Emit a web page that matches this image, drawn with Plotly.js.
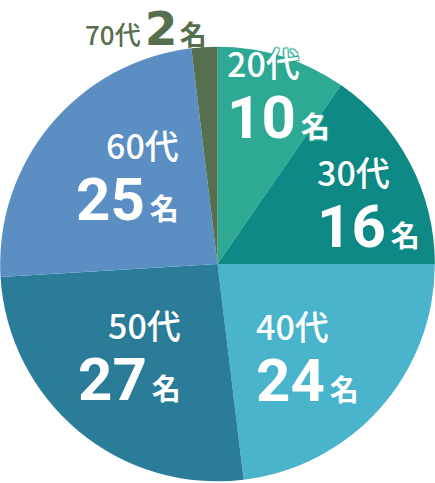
<!DOCTYPE html>
<html>
<head>
<meta charset="utf-8">
<script src="https://cdn.plot.ly/plotly-3.0.1.min.js"></script>
<style>html,body{margin:0;padding:0;background:#fff;}#chart{width:435px;height:483px;}</style>
</head>
<body>
<div id="chart"></div>
<script>
// Data
var ageGroups = ["20代", "30代", "40代", "50代", "60代", "70代"];
var counts = [10, 16, 24, 27, 25, 2];
var unitLabel = "名";

// Styles
var sliceColors = ["#2ea993", "#0e8985", "#49b4cc", "#2a7c98", "#5b8fc4", "#566f4f"];
var textColors = ["#ffffff", "#ffffff", "#ffffff", "#ffffff", "#ffffff", "#566f4f"];
// label layout: [x (px), y (px), xanchor, yanchor, singleLine]
var labelPos = [
  [226, 95, "left", "middle", false],
  [316, 205, "left", "middle", false],
  [255, 358, "left", "middle", false],
  [182, 357, "right", "middle", false],
  [180, 178, "right", "middle", false],
  [84, 0, "left", "top", true]
];

var W = 435, H = 483;
function px(x) { return x / W; }
function py(y) { return 1 - y / H; }

function span(txt, style) { return '<span style="' + style + '">' + txt + '</span>'; }

var annotations = [];
for (var i = 0; i < ageGroups.length; i++) {
  var p = labelPos[i], c = textColors[i], sc = sliceColors[i];
  var sh = (c === "#ffffff") ?
    ("1px 1px 1px " + sc + ", -1px -1px 1px " + sc + ", 1px -1px 1px " + sc + ", -1px 1px 1px " + sc) : "none";
  var text, baseSize;
  if (p[4]) {
    baseSize = 26;
    text = ageGroups[i] + span(" ", "font-size:18px") +
      span(String(counts[i]), "font-size:47px;font-family:DejaVu Sans;font-weight:bold") + span(" ", "font-size:10px") +
      span(unitLabel, "font-size:27px;font-weight:bold");
  } else {
    baseSize = 47;
    text = span(ageGroups[i], "font-size:34px") + "<br>" +
      span(String(counts[i]), "font-size:60px;font-family:Roboto;font-weight:bold") + span(" ", "font-size:22px") +
      span(unitLabel, "font-size:29px;font-weight:bold");
  }
  annotations.push({
    text: text, x: px(p[0]), y: py(p[1]), xref: "paper", yref: "paper",
    xanchor: p[2], yanchor: p[3], align: p[2], showarrow: false, borderpad: 0,
    font: {family: "Noto Sans CJK JP", size: baseSize, color: c, weight: 500, shadow: sh}
  });
}

var trace = {
  type: "pie",
  labels: ageGroups,
  values: counts,
  sort: false,
  direction: "clockwise",
  rotation: 0,
  textinfo: "none",
  hoverinfo: "none",
  marker: {colors: sliceColors, line: {width: 0}},
  domain: {x: [0, 1], y: [py(264) - 0.45, py(264) + 0.45]}
};

var layout = {
  width: W, height: H,
  margin: {l: 0, r: 0, t: 0, b: 0, pad: 0},
  showlegend: false,
  paper_bgcolor: "#ffffff",
  annotations: annotations
};

Plotly.newPlot("chart", [trace], layout, {staticPlot: true, displayModeBar: false});
</script>
</body>
</html>
